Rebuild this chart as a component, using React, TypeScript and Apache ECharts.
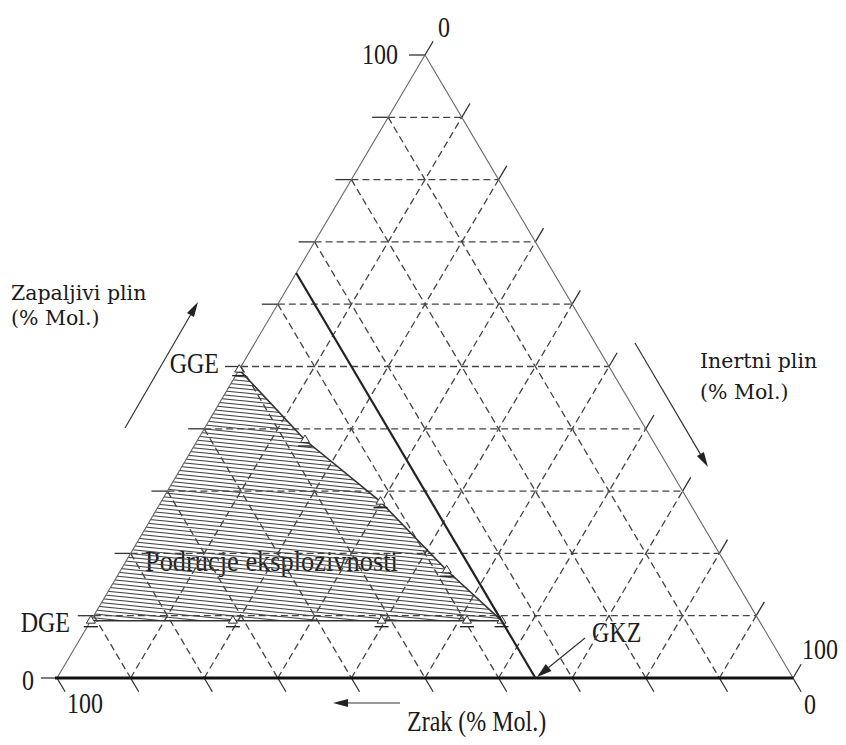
import React, { useEffect, useRef } from "react";
import * as echarts from "echarts";

// tick / grid levels (% Mol.)
const gridLevels = [0, 10, 20, 30, 40, 50, 60, 70, 80, 90, 100];
// explosive region boundary, vertices as (flammable gas %, inert gas %)
const regionFuel = [49.5, 38.2, 28.3, 17.3, 9.2, 9.2, 9.2, 9.2, 9.2];
const regionInert = [0, 14.6, 29.8, 44.3, 55.8, 51.1, 39.5, 19.3, 0];
// limiting air concentration line (air %)
const limitAir = [35];

// ternary (fuel, inert) -> cartesian data coords
const tern = (f: number, i: number) => [f / 2 + i, f];

function hatchPattern() {
  const c = document.createElement("canvas");
  c.width = 40;
  c.height = 4;
  const ctx = c.getContext("2d")!;
  ctx.strokeStyle = "#444";
  ctx.lineWidth = 1.1;
  for (const off of [-4, 0, 4]) {
    ctx.beginPath();
    ctx.moveTo(0, off + 0.5);
    ctx.lineTo(40, off + 4 + 0.5);
    ctx.stroke();
  }
  return { image: c, repeat: "repeat", imageWidth: 40, imageHeight: 4 } as any;
}

function arrow(x1: number, y1: number, x2: number, y2: number, len = 14, hw = 4) {
  const dx = x2 - x1, dy = y2 - y1;
  const L = Math.hypot(dx, dy);
  const ux = dx / L, uy = dy / L;
  const bx = x2 - ux * len, by = y2 - uy * len;
  const px = -uy, py = ux;
  return [
    { type: "line", shape: { x1, y1, x2: bx, y2: by }, style: { stroke: "#333", lineWidth: 1.2 } },
    {
      type: "polygon",
      shape: { points: [[x2, y2], [bx + px * hw, by + py * hw], [bx - px * hw, by - py * hw]] },
      style: { fill: "#222" },
    },
  ];
}

const SERIF = '"Liberation Serif", "Times New Roman", serif';
function label(text: string, x: number, y: number, align: string, size = 24, sy = 1.22, sx = 1, family = SERIF) {
  return {
    type: "text",
    x,
    y,
    scaleX: sx,
    scaleY: sy,
    style: {
      text,
      font: `${size}px ${family}`,
      fill: "#1a1a1a",
      textAlign: align,
      textVerticalAlign: "middle",
      align,
      verticalAlign: "middle",
    },
  };
}

export default function App() {
  const ref = useRef<HTMLDivElement>(null);
  useEffect(() => {
    const chart = echarts.init(ref.current!, null, { renderer: "svg" });
    const TICK = 16;
    const dashStyle = { stroke: "#444", lineWidth: 1.3, lineDash: [7, 4], fill: null };
    const tickStyle = { stroke: "#333", lineWidth: 1.3 };

    const option: any = {
      animation: false,
      grid: { left: 57, top: 55, width: 736, height: 623 },
      xAxis: { type: "value", min: 0, max: 100, show: false },
      yAxis: { type: "value", min: 0, max: 100, show: false },
      series: [
        {
          type: "custom",
          name: "grid",
          data: gridLevels.map((v) => [v, 0]),
          renderItem: (params: any, api: any) => {
            const v = api.value(0);
            const P = (f: number, i: number) => api.coord(tern(f, i));
            const children: any[] = [];
            const ln = (a: number[], b: number[], style: any) =>
              children.push({ type: "line", shape: { x1: a[0], y1: a[1], x2: b[0], y2: b[1] }, style });
            if (v > 0 && v < 100) {
              ln(P(v, 0), P(v, 100 - v), dashStyle); // fuel = v
              ln(P(0, v), P(100 - v, v), dashStyle); // inert = v
              ln(P(100 - v, 0), P(0, 100 - v), dashStyle); // air = v
            }
            const BL = P(0, 0), A = P(100, 0), BR = P(0, 100);
            const norm = (a: number[], b: number[]) => {
              const dx = b[0] - a[0], dy = b[1] - a[1];
              const L = Math.hypot(dx, dy);
              return [dx / L, dy / L];
            };
            const up = norm(BL, A);
            const down = norm(A, BR);
            const tk = (p: number[], d: number[]) => ln(p, [p[0] + d[0] * TICK, p[1] + d[1] * TICK], tickStyle);
            tk(P(v, 0), [-1, 0]);
            tk(P(100 - v, v), up);
            tk(P(0, 100 - v), down);
            return { type: "group", children };
          },
          z: 1,
        },
        {
          type: "custom",
          name: "frame",
          data: [[0, 0]],
          renderItem: (params: any, api: any) => {
            const BL = api.coord(tern(0, 0)), A = api.coord(tern(100, 0)), BR = api.coord(tern(0, 100));
            return {
              type: "group",
              children: [
                { type: "line", shape: { x1: BL[0], y1: BL[1], x2: A[0], y2: A[1] }, style: { stroke: "#666", lineWidth: 1.1 } },
                { type: "line", shape: { x1: A[0], y1: A[1], x2: BR[0], y2: BR[1] }, style: { stroke: "#666", lineWidth: 1.1 } },
                { type: "line", shape: { x1: BL[0] - 2, y1: BL[1], x2: BR[0], y2: BR[1] }, style: { stroke: "#111", lineWidth: 3.2 } },
              ],
            };
          },
          z: 3,
        },
        {
          type: "custom",
          name: "region",
          data: [[0, 0]],
          renderItem: (params: any, api: any) => {
            const pts = regionFuel.map((f, k) => api.coord(tern(f, regionInert[k])));
            return {
              type: "group",
              children: [
                { type: "polygon", shape: { points: pts }, style: { fill: hatchPattern(), stroke: null } },
                { type: "polyline", shape: { points: pts.slice(0, 5) }, style: { stroke: "#333", lineWidth: 1.6, fill: null } },
                { type: "polyline", shape: { points: pts.slice(4) }, style: { stroke: "#333", lineWidth: 1.4, fill: null } },
              ],
            };
          },
          z: 2,
        },
        {
          type: "custom",
          name: "markers",
          data: regionFuel.map((f, k) => tern(f, regionInert[k])),
          renderItem: (params: any, api: any) => {
            const p = api.coord([api.value(0), api.value(1)]);
            const x = p[0], y = p[1];
            return {
              type: "group",
              children: [
                {
                  type: "polygon",
                  shape: { points: [[x, y - 5], [x - 4.5, y + 2.5], [x + 4.5, y + 2.5]] },
                  style: { fill: "#fff", stroke: "#333", lineWidth: 1 },
                },
                { type: "line", shape: { x1: x - 7, y1: y + 6, x2: x + 7, y2: y + 6 }, style: { stroke: "#222", lineWidth: 1.4 } },
              ],
            };
          },
          z: 4,
        },
        {
          type: "line",
          name: "GKZ",
          data: [tern(100 - limitAir[0], 0), tern(0, 100 - limitAir[0])],
          symbol: "none",
          lineStyle: { color: "#222", width: 2.2 },
          z: 5,
        },
      ],
      graphic: [
        ...arrow(125, 428, 198, 302, 15, 4),
        ...arrow(635, 343, 708, 467, 15, 4),
        ...arrow(400, 703, 333, 703, 15, 4),
        ...arrow(585, 638, 537, 677, 15, 4.5),
        label("0", 444, 27, "center"),
        label("100", 398, 54, "right"),
        label("GGE", 219, 363, "right"),
        label("DGE", 70, 622, "right"),
        label("0", 34, 680, "right"),
        label("100", 67, 703, "left"),
        label("100", 802, 649, "left"),
        label("0", 804, 704, "left"),
        label("GKZ", 592, 632, "left"),
        label("Zrak (% Mol.)", 407, 721, "left"),
        label("Podrucje eksplozivnosti", 145, 561, "left", 24, 1.2, 1.1),
        label("Zapaljivi plin", 11, 293, "left", 20.5, 1, 1, '"DejaVu Serif", serif'),
        label("(% Mol.)", 11, 318, "left", 20.5, 1, 1, '"DejaVu Serif", serif'),
        label("Inertni plin", 700, 361, "left", 20.5, 1, 1, '"DejaVu Serif", serif'),
        label("(% Mol.)", 700, 392, "left", 20.5, 1, 1, '"DejaVu Serif", serif'),
      ],
    };
    chart.setOption(option);
    return () => chart.dispose();
  }, []);
  return (
    <div
      ref={ref}
      style={{ position: "fixed", left: 0, top: 0, width: 846, height: 745, background: "#fff" }}
    />
  );
}
